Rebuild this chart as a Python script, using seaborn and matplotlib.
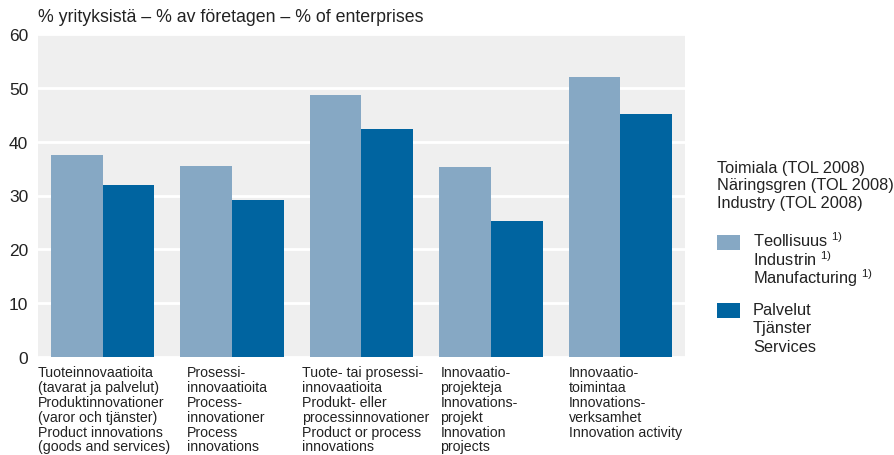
import matplotlib
matplotlib.use("Agg")
import matplotlib.pyplot as plt
import matplotlib.transforms as mtransforms
from matplotlib.patches import Rectangle
import seaborn as sns
import pandas as pd

# Data
categories = [
    "Tuoteinnovaatioita\n(tavarat ja palvelut)\nProduktinnovationer\n(varor och tjänster)\nProduct innovations\n(goods and services)",
    "Prosessi-\ninnovaatioita\nProcess-\ninnovationer\nProcess\ninnovations",
    "Tuote- tai prosessi-\ninnovaatioita\nProdukt- eller\nprocessinnovationer\nProduct or process\ninnovations",
    "Innovaatio-\nprojekteja\nInnovations-\nprojekt\nInnovation\nprojects",
    "Innovaatio-\ntoimintaa\nInnovations-\nverksamhet\nInnovation activity",
]
manufacturing = [37.6, 35.4, 48.6, 35.3, 52.0]
services = [31.9, 29.1, 42.4, 25.3, 45.2]
series_names = ["Teollisuus $^{1)}$\nIndustrin $^{1)}$\nManufacturing $^{1)}$",
                "Palvelut\nTjänster\nServices"]
legend_title = "Toimiala (TOL 2008)\nNäringsgren (TOL 2008)\nIndustry (TOL 2008)"
y_title = "% yrityksistä – % av företagen – % of enterprises"

# layout: left edge of each category label relative to the group centre
label_offsets = [-0.5, -0.35, -0.46, -0.39, -0.40]

colors = ["#86a8c4", "#0064a0"]
text_color = "#222222"

df = pd.DataFrame({
    "cat": list(range(len(categories))) * 2,
    "value": manufacturing + services,
    "series": [series_names[0]] * len(categories) + [series_names[1]] * len(categories),
})

sns.set_style("white")
plt.rcParams["font.family"] = ["Liberation Sans", "DejaVu Sans"]
plt.rcParams["mathtext.fontset"] = "custom"
plt.rcParams["mathtext.rm"] = "Liberation Sans"
plt.rcParams["mathtext.it"] = "Liberation Sans:italic"

W, H = 895, 456
fig = plt.figure(figsize=(W / 100, H / 100), dpi=100)
ax = fig.add_axes([38 / W, 1 - 358 / H, (685 - 38) / W, (358 - 35) / H])
ax.set_facecolor("#efefef")

sns.barplot(data=df, x="cat", y="value", hue="series", palette=colors,
            width=0.8, linewidth=0, saturation=1, legend=False, ax=ax)

ax.set_ylim(0, 60)
ax.set_xlim(-0.5, len(categories) - 0.5)
ax.set_yticks(range(0, 61, 10))
ax.yaxis.grid(True, color="white", linewidth=2)
ax.set_axisbelow(True)
for s in ax.spines.values():
    s.set_visible(False)
ax.tick_params(axis="y", length=0, pad=7, labelsize=12.5, labelcolor=text_color)
ax.set_xticks([])
ax.set_xlabel("")
ax.set_ylabel("")

trans = mtransforms.blended_transform_factory(ax.transData, ax.transAxes)
for i, (lab, off) in enumerate(zip(categories, label_offsets)):
    ax.text(i + off, -0.025, lab, transform=trans, ha="left", va="top",
            fontsize=10.2, linespacing=1.08, color=text_color)

fig.text(38 / W, 1 - 18 / H, y_title, ha="left", va="center",
         fontsize=12.8, color=text_color)

# legend, drawn line by line so that the superscripts keep an even spacing
fig.text(717 / W, 1 - 161 / H, legend_title, ha="left", va="top",
         fontsize=11.8, linespacing=1.2, color=text_color)
patch_tops = [236, 304]
for col, name, top in zip(colors, series_names, patch_tops):
    fig.patches.append(Rectangle((717 / W, 1 - (top + 15) / H), 23 / W, 15 / H,
                                 transform=fig.transFigure, facecolor=col,
                                 edgecolor="none"))
    for k, line in enumerate(name.split("\n")):
        fig.text(753 / W, 1 - (top + 11 + 18.5 * k) / H, line, ha="left",
                 va="baseline", fontsize=11.8, color=text_color)

fig.savefig("out.png", dpi=100)
